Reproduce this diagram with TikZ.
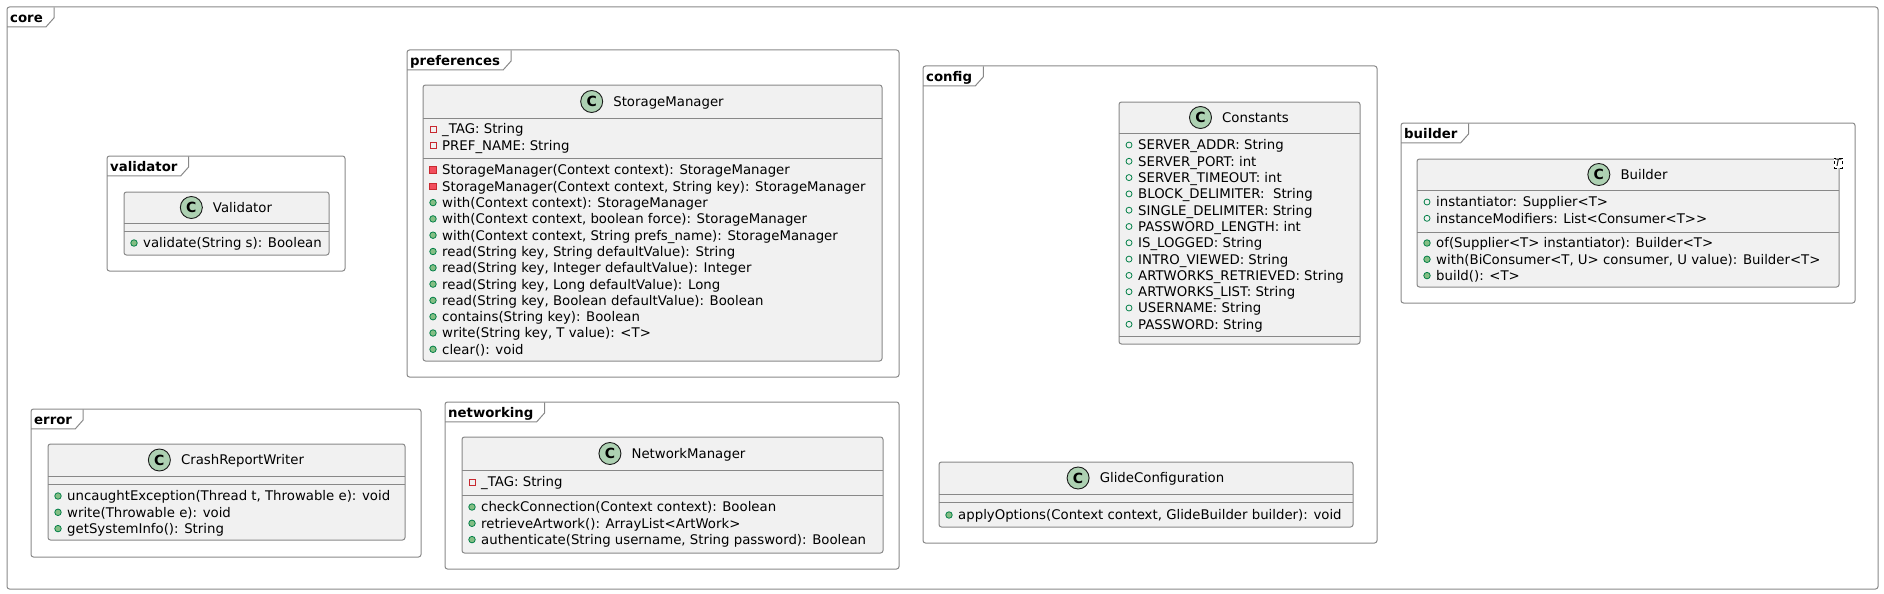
\documentclass[tikz,border=0pt]{standalone}
\usepackage{fontspec}
\setmainfont{DejaVu Sans}
\usepackage{tikz}
\usetikzlibrary{calc,positioning}

\definecolor{clsbg}{HTML}{F1F1F1}
\definecolor{grayline}{HTML}{888888}
\definecolor{ciconbg}{HTML}{ADD1B2}
\definecolor{privline}{HTML}{C82930}
\definecolor{privfill}{HTML}{F24D5C}
\definecolor{publine}{HTML}{038048}
\definecolor{pubfill}{HTML}{84BE84}

% package frame with its name tab: id, label, x1, y1, x2, y2
\newcommand{\pkgframe}[6]{%
  \draw [frame] (#3,#4) rectangle (#5,#6);
  \node [pkgtab] (#1) at (#3,#4) {#2};
  \draw [grayline, line width=1pt] (#1.south west) -- (#1.south east) -- ++(8,-9) -- ++(0,-10.5);
}
% class box: id, title, x1, y1, x2, y2, header line, fields line
\newcommand{\umlclass}[8]{%
  \draw [clsbox] (#3,#4) rectangle (#5,#6);
  \draw [clsline] (#3,#7) -- (#5,#7);
  \draw [clsline] (#3,#8) -- (#5,#8);
  \node [cname] (#1) at ({(#3+#5)/2+16},{(#4+#7)/2}) {#2};
  \node [cicon, left=10pt of #1] (#1C) {C};
}
% member lines: prefix, x of box, y of first line, list kind/text
\newcommand{\members}[4]{%
  \foreach \k/\t [count=\i] in {#4} {
    \node [style/.expanded=\k] (#1i\i) at (#2+10,{#3+(\i-1)*16.3}) {};
    \node [member] (#1\i) at (#2+19,{#3+(\i-1)*16.3+4.9}) {\t};
  }
}

\begin{document}
\begin{tikzpicture}[x=1pt, y=-1pt,
  frame/.style={draw=grayline, line width=1pt, rounded corners=2.5pt},
  pkgtab/.style={anchor=north west, inner xsep=3pt, inner ysep=0pt, text height=15pt, text depth=4.5pt, font=\bfseries\fontsize{13.3}{16}\selectfont},
  clsbox/.style={draw=grayline, fill=clsbg, line width=1pt, rounded corners=2.5pt},
  clsline/.style={draw=grayline, line width=1pt},
  cname/.style={inner sep=0pt, text height=9.7pt, text depth=0pt, font=\fontsize{13.3}{16}\selectfont},
  cicon/.style={circle, draw=black!90, fill=ciconbg, line width=0.9pt, minimum size=22pt, inner sep=0pt, font=\bfseries\fontsize{14}{14}\selectfont},
  member/.style={anchor=base west, inner sep=0pt, font=\fontsize{13.3}{16}\selectfont},
  privfield/.style={rectangle, draw=privline, line width=0.8pt, minimum size=6pt, inner sep=0pt},
  privmethod/.style={rectangle, draw=privline, fill=privfill, line width=0.8pt, minimum size=6.5pt, inner sep=0pt},
  pubfield/.style={circle, draw=publine, line width=0.8pt, minimum size=6pt, inner sep=0pt},
  pubmethod/.style={circle, draw=publine, fill=pubfill, line width=0.8pt, minimum size=6.5pt, inner sep=0pt},
  tparam/.style={draw=black, dashed, fill=white, line width=0.6pt, inner xsep=1pt, inner ysep=1.5pt, font=\itshape\fontsize{10}{10}\selectfont}]
\useasboundingbox (0,0) rectangle (1884,594);

% core
\pkgframe{pCore}{core}{7}{7}{1878}{589}

% validator
\pkgframe{pValidator}{validator}{107}{156}{345}{271}
\umlclass{cValidator}{Validator}{124}{192}{329}{255}{223}{231}
\members{vaM}{124}{243}{pubmethod/{validate(String s): Boolean}}

% preferences
\pkgframe{pPreferences}{preferences}{407}{50}{899}{377}
\umlclass{cStorage}{StorageManager}{423}{85}{882}{361}{118}{158}
\members{smA}{423}{129}{privfield/{\_TAG: String}, privfield/{PREF\_NAME: String}}
\members{smM}{423}{170}{privmethod/{StorageManager(Context context): StorageManager},
  privmethod/{StorageManager(Context context, String key): StorageManager},
  pubmethod/{with(Context context): StorageManager},
  pubmethod/{with(Context context, boolean force): StorageManager},
  pubmethod/{with(Context context, String prefs\_name): StorageManager},
  pubmethod/{read(String key, String defaultValue): String},
  pubmethod/{read(String key, Integer defaultValue): Integer},
  pubmethod/{read(String key, Long defaultValue): Long},
  pubmethod/{read(String key, Boolean defaultValue): Boolean},
  pubmethod/{contains(String key): Boolean},
  pubmethod/{write(String key, T value): <T>},
  pubmethod/{clear(): void}}

% config
\pkgframe{pConfig}{config}{923}{66}{1377}{543}
\umlclass{cConstants}{Constants}{1119}{102}{1360}{344}{133}{336}
\members{coA}{1119}{145}{pubfield/{SERVER\_ADDR: String}, pubfield/{SERVER\_PORT: int},
  pubfield/{SERVER\_TIMEOUT: int}, pubfield/{BLOCK\_DELIMITER:\ \ String},
  pubfield/{SINGLE\_DELIMITER: String}, pubfield/{PASSWORD\_LENGTH: int},
  pubfield/{IS\_LOGGED: String}, pubfield/{INTRO\_VIEWED: String},
  pubfield/{ARTWORKS\_RETRIEVED: String}, pubfield/{ARTWORKS\_LIST: String},
  pubfield/{USERNAME: String}, pubfield/{PASSWORD: String}}
\umlclass{cGlide}{GlideConfiguration}{939}{462}{1353}{527}{494}{502}
\members{glM}{939}{515}{pubmethod/{applyOptions(Context context, GlideBuilder builder): void}}

% builder
\pkgframe{pBuilder}{builder}{1401}{123}{1855}{303}
\umlclass{cBuilder}{Builder}{1417}{159}{1839}{287}{190}{232}
\node [tparam] (tBuilder) at (1838,163) {T};
\members{buA}{1417}{202}{pubfield/{instantiator: Supplier<T>}, pubfield/{instanceModifiers: List<Consumer<T>{}>}}
\members{buM}{1417}{243}{pubmethod/{of(Supplier<T> instantiator): Builder<T>},
  pubmethod/{with(BiConsumer<T, U> consumer, U value): Builder<T>},
  pubmethod/{build(): <T>}}

% error
\pkgframe{pError}{error}{31}{409}{421}{557}
\umlclass{cCrash}{CrashReportWriter}{48}{444}{405}{540}{476}{484}
\members{crM}{48}{496}{pubmethod/{uncaughtException(Thread t, Throwable e): void},
  pubmethod/{write(Throwable e): void}, pubmethod/{getSystemInfo(): String}}

% networking
\pkgframe{pNetworking}{networking}{445}{402}{899}{569}
\umlclass{cNetwork}{NetworkManager}{462}{437}{883}{553}{470}{495}
\members{nmA}{462}{482}{privfield/{\_TAG: String}}
\members{nmM}{462}{507}{pubmethod/{checkConnection(Context context): Boolean},
  pubmethod/{retrieveArtwork(): ArrayList<ArtWork>},
  pubmethod/{authenticate(String username, String password): Boolean}}
\end{tikzpicture}
\end{document}
